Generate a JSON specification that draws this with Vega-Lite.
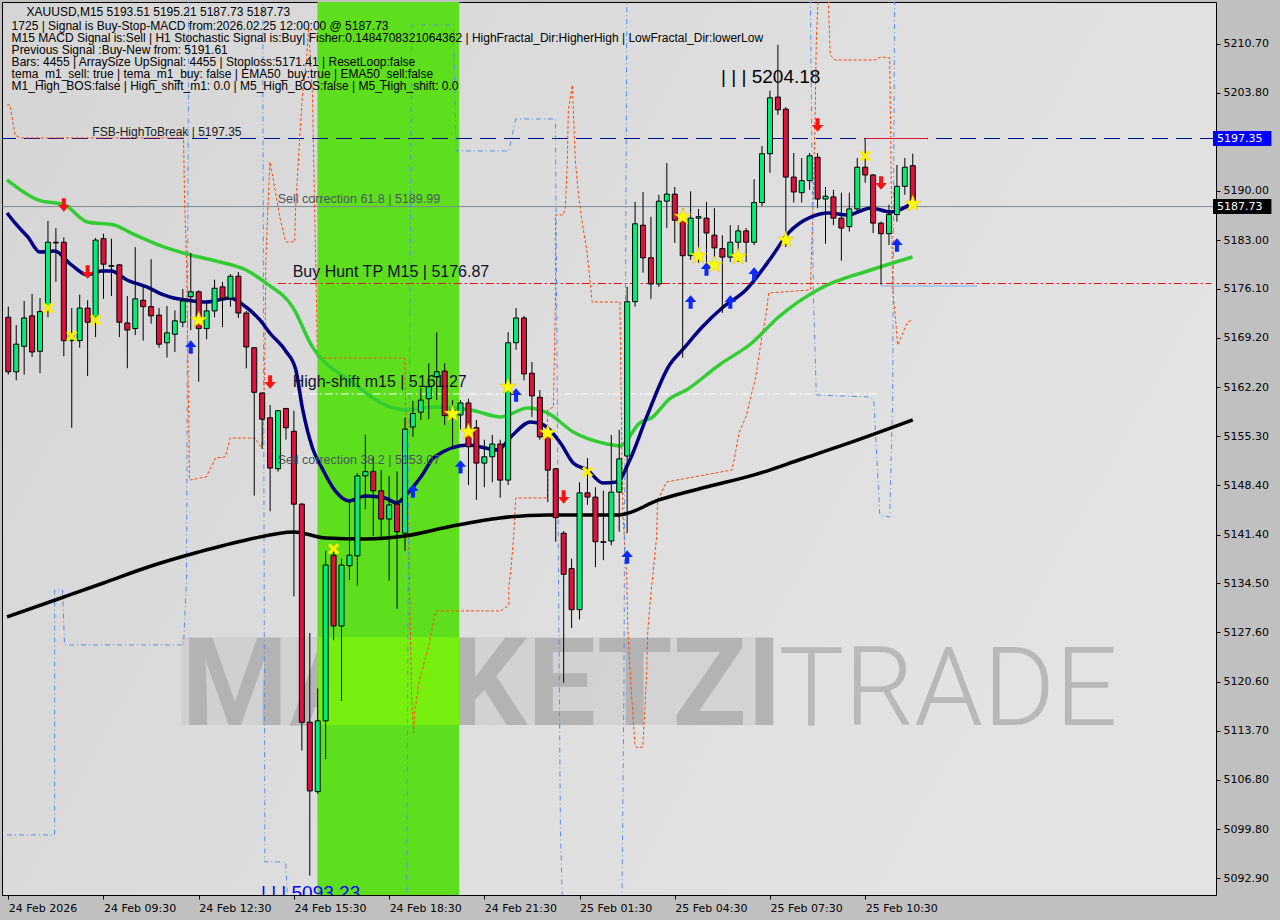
{
  "$schema": "https://vega.github.io/schema/vega-lite/v6.json",
  "width": 1214,
  "height": 893,
  "autosize": {"type": "none"},
  "padding": {"left": 2, "top": 2, "right": 64, "bottom": 25},
  "background": "#c0c0c0",
  "config": {
    "view": {"stroke": "#000000", "strokeWidth": 1, "fill": {"gradient": "linear", "x1": 0, "y1": 0, "x2": 1, "y2": 0.4, "stops": [{"offset": 0, "color": "#d5d5d5"}, {"offset": 0.6, "color": "#dedede"}, {"offset": 1, "color": "#e3e3e3"}]}}
  },
  "resolve": {"axis": {"x": "independent", "y": "independent"}},
  "datasets": {
    "candles": [
      {"x":0,"o":5172.1,"h":5173.6,"l":5164.0,"c":5164.4},
      {"x":1,"o":5164.4,"h":5171.0,"l":5163.2,"c":5168.3},
      {"x":2,"o":5168.0,"h":5174.4,"l":5164.0,"c":5172.0},
      {"x":3,"o":5172.3,"h":5175.4,"l":5166.5,"c":5167.2},
      {"x":4,"o":5167.3,"h":5174.8,"l":5164.2,"c":5172.9},
      {"x":5,"o":5173.6,"h":5185.7,"l":5172.1,"c":5182.7},
      {"x":6,"o":5182.7,"h":5184.7,"l":5177.1,"c":5182.6},
      {"x":7,"o":5182.7,"h":5183.4,"l":5166.6,"c":5168.8},
      {"x":8,"o":5168.8,"h":5173.4,"l":5156.5,"c":5169.6},
      {"x":9,"o":5168.8,"h":5175.3,"l":5167.8,"c":5173.4},
      {"x":10,"o":5173.4,"h":5174.5,"l":5163.8,"c":5171.4},
      {"x":11,"o":5172.1,"h":5183.3,"l":5169.3,"c":5183.0},
      {"x":12,"o":5183.2,"h":5183.9,"l":5174.7,"c":5179.6},
      {"x":13,"o":5179.4,"h":5183.2,"l":5175.1,"c":5179.3},
      {"x":14,"o":5179.5,"h":5179.6,"l":5169.3,"c":5171.4},
      {"x":15,"o":5171.3,"h":5175.1,"l":5164.9,"c":5170.3},
      {"x":16,"o":5170.5,"h":5182.0,"l":5169.6,"c":5174.7},
      {"x":17,"o":5174.5,"h":5176.4,"l":5168.8,"c":5173.6},
      {"x":18,"o":5173.6,"h":5180.3,"l":5171.2,"c":5172.3},
      {"x":19,"o":5172.4,"h":5173.4,"l":5167.8,"c":5168.3},
      {"x":20,"o":5168.5,"h":5173.7,"l":5166.4,"c":5169.9},
      {"x":21,"o":5169.7,"h":5173.1,"l":5167.2,"c":5171.6},
      {"x":22,"o":5171.4,"h":5176.1,"l":5170.7,"c":5174.4},
      {"x":23,"o":5175.0,"h":5181.2,"l":5170.3,"c":5175.7},
      {"x":24,"o":5175.7,"h":5175.9,"l":5163.0,"c":5170.5},
      {"x":25,"o":5170.5,"h":5174.1,"l":5169.0,"c":5173.0},
      {"x":26,"o":5173.0,"h":5177.4,"l":5172.1,"c":5176.2},
      {"x":27,"o":5176.4,"h":5177.1,"l":5170.7,"c":5174.8},
      {"x":28,"o":5174.8,"h":5178.2,"l":5173.6,"c":5177.9},
      {"x":29,"o":5177.9,"h":5178.5,"l":5172.0,"c":5172.7},
      {"x":30,"o":5172.7,"h":5173.0,"l":5164.9,"c":5167.9},
      {"x":31,"o":5167.8,"h":5167.9,"l":5146.9,"c":5161.5},
      {"x":32,"o":5161.4,"h":5161.5,"l":5153.5,"c":5157.7},
      {"x":33,"o":5157.9,"h":5159.7,"l":5144.7,"c":5150.8},
      {"x":34,"o":5150.7,"h":5159.0,"l":5150.3,"c":5158.9},
      {"x":35,"o":5159.2,"h":5159.3,"l":5154.8,"c":5156.5},
      {"x":36,"o":5156.0,"h":5158.9,"l":5132.7,"c":5145.7},
      {"x":37,"o":5145.7,"h":5145.9,"l":5110.9,"c":5114.9},
      {"x":38,"o":5114.9,"h":5127.5,"l":5093.23,"c":5105.2},
      {"x":39,"o":5105.1,"h":5119.7,"l":5104.8,"c":5115.1},
      {"x":40,"o":5115.1,"h":5139.1,"l":5109.7,"c":5137.1},
      {"x":41,"o":5138.5,"h":5139.1,"l":5126.5,"c":5128.5},
      {"x":42,"o":5128.5,"h":5138.0,"l":5117.9,"c":5137.1},
      {"x":43,"o":5137.0,"h":5146.2,"l":5135.0,"c":5138.5},
      {"x":44,"o":5138.4,"h":5150.1,"l":5134.2,"c":5149.7},
      {"x":45,"o":5149.7,"h":5155.5,"l":5145.0,"c":5150.3},
      {"x":46,"o":5150.3,"h":5152.4,"l":5141.2,"c":5147.6},
      {"x":47,"o":5147.6,"h":5150.5,"l":5140.7,"c":5143.6},
      {"x":48,"o":5143.6,"h":5149.7,"l":5134.9,"c":5145.6},
      {"x":49,"o":5145.7,"h":5150.3,"l":5130.9,"c":5141.8},
      {"x":50,"o":5141.6,"h":5157.9,"l":5139.1,"c":5156.3},
      {"x":51,"o":5156.6,"h":5160.3,"l":5155.2,"c":5158.5},
      {"x":52,"o":5158.7,"h":5162.1,"l":5157.6,"c":5160.4},
      {"x":53,"o":5160.6,"h":5165.6,"l":5157.7,"c":5162.3},
      {"x":54,"o":5163.7,"h":5170.0,"l":5160.4,"c":5164.4},
      {"x":55,"o":5164.5,"h":5165.6,"l":5156.9,"c":5158.2},
      {"x":56,"o":5158.3,"h":5160.4,"l":5153.8,"c":5159.0},
      {"x":57,"o":5158.3,"h":5160.4,"l":5156.2,"c":5160.0},
      {"x":58,"o":5160.0,"h":5160.6,"l":5148.4,"c":5153.8},
      {"x":59,"o":5156.5,"h":5157.6,"l":5146.3,"c":5151.5},
      {"x":60,"o":5151.5,"h":5154.8,"l":5148.1,"c":5152.4},
      {"x":61,"o":5152.4,"h":5155.5,"l":5148.8,"c":5154.2},
      {"x":62,"o":5154.2,"h":5154.8,"l":5146.6,"c":5149.1},
      {"x":63,"o":5149.1,"h":5170.0,"l":5148.4,"c":5168.5},
      {"x":64,"o":5168.5,"h":5173.4,"l":5167.5,"c":5172.0},
      {"x":65,"o":5172.0,"h":5172.3,"l":5163.2,"c":5164.1},
      {"x":66,"o":5164.2,"h":5165.8,"l":5158.0,"c":5161.0},
      {"x":67,"o":5160.8,"h":5161.8,"l":5154.8,"c":5155.2},
      {"x":68,"o":5155.3,"h":5156.6,"l":5146.0,"c":5150.5},
      {"x":69,"o":5150.7,"h":5150.8,"l":5140.4,"c":5143.8},
      {"x":70,"o":5141.6,"h":5141.9,"l":5120.5,"c":5135.8},
      {"x":71,"o":5136.6,"h":5138.0,"l":5128.2,"c":5130.8},
      {"x":72,"o":5130.8,"h":5148.8,"l":5129.4,"c":5147.3},
      {"x":73,"o":5147.3,"h":5152.2,"l":5145.6,"c":5146.7},
      {"x":74,"o":5146.7,"h":5148.1,"l":5136.8,"c":5140.4},
      {"x":75,"o":5140.4,"h":5147.6,"l":5137.8,"c":5140.3},
      {"x":76,"o":5140.5,"h":5155.5,"l":5139.9,"c":5147.4},
      {"x":77,"o":5147.4,"h":5156.2,"l":5141.8,"c":5152.1},
      {"x":78,"o":5152.5,"h":5176.4,"l":5141.6,"c":5174.3},
      {"x":79,"o":5174.3,"h":5188.4,"l":5173.6,"c":5185.3},
      {"x":80,"o":5185.1,"h":5189.8,"l":5178.4,"c":5180.5},
      {"x":81,"o":5180.5,"h":5186.3,"l":5174.7,"c":5176.8},
      {"x":82,"o":5176.8,"h":5189.4,"l":5176.4,"c":5188.5},
      {"x":83,"o":5188.5,"h":5193.9,"l":5184.7,"c":5189.5},
      {"x":84,"o":5189.5,"h":5190.5,"l":5182.6,"c":5185.8},
      {"x":85,"o":5185.8,"h":5187.5,"l":5166.4,"c":5180.8},
      {"x":86,"o":5180.8,"h":5189.9,"l":5180.2,"c":5186.1},
      {"x":87,"o":5186.1,"h":5187.4,"l":5179.8,"c":5186.3},
      {"x":88,"o":5186.1,"h":5188.4,"l":5178.5,"c":5184.0},
      {"x":89,"o":5183.7,"h":5187.5,"l":5179.5,"c":5181.9},
      {"x":90,"o":5181.8,"h":5183.7,"l":5172.7,"c":5180.6},
      {"x":91,"o":5180.6,"h":5185.1,"l":5179.9,"c":5182.7},
      {"x":92,"o":5182.7,"h":5185.1,"l":5179.9,"c":5184.3},
      {"x":93,"o":5184.3,"h":5184.7,"l":5179.9,"c":5182.7},
      {"x":94,"o":5182.7,"h":5191.6,"l":5182.3,"c":5188.3},
      {"x":95,"o":5188.3,"h":5196.3,"l":5187.8,"c":5195.2},
      {"x":96,"o":5195.2,"h":5204.1,"l":5192.5,"c":5203.1},
      {"x":97,"o":5203.2,"h":5210.6,"l":5200.7,"c":5201.4},
      {"x":98,"o":5201.5,"h":5201.8,"l":5182.0,"c":5191.9},
      {"x":99,"o":5191.9,"h":5195.3,"l":5188.3,"c":5189.8},
      {"x":100,"o":5189.7,"h":5194.6,"l":5188.3,"c":5191.4},
      {"x":101,"o":5191.4,"h":5195.3,"l":5190.1,"c":5194.9},
      {"x":102,"o":5194.7,"h":5195.3,"l":5187.5,"c":5188.8},
      {"x":103,"o":5188.8,"h":5190.5,"l":5182.5,"c":5189.2},
      {"x":104,"o":5189.1,"h":5190.1,"l":5185.1,"c":5186.1},
      {"x":105,"o":5186.1,"h":5189.7,"l":5180.1,"c":5184.7},
      {"x":106,"o":5184.9,"h":5189.7,"l":5184.2,"c":5187.4},
      {"x":107,"o":5187.4,"h":5194.6,"l":5187.0,"c":5193.3},
      {"x":108,"o":5193.3,"h":5197.3,"l":5191.1,"c":5192.2},
      {"x":109,"o":5192.2,"h":5192.3,"l":5184.0,"c":5185.4},
      {"x":110,"o":5185.4,"h":5185.6,"l":5176.7,"c":5183.9},
      {"x":111,"o":5183.9,"h":5188.0,"l":5182.3,"c":5186.6},
      {"x":112,"o":5186.6,"h":5193.6,"l":5185.6,"c":5190.6},
      {"x":113,"o":5190.6,"h":5194.6,"l":5189.4,"c":5193.3},
      {"x":114,"o":5193.51,"h":5195.21,"l":5187.73,"c":5187.73}
    ],
    "ema200": [
      {"x":-0.16,"y":5129.77},{"x":7,"y":5132.59},{"x":12,"y":5134.57},{"x":18,"y":5136.97},{"x":24,"y":5138.95},{"x":30,"y":5140.65},{"x":36,"y":5141.78},{"x":40,"y":5140.93},{"x":45,"y":5140.79},{"x":50,"y":5141.22},{"x":56,"y":5142.63},{"x":62,"y":5143.76},{"x":68,"y":5144.19},{"x":72,"y":5144.19},{"x":77,"y":5144.19},{"x":82,"y":5146.3},{"x":88,"y":5148.13},{"x":94,"y":5149.83},{"x":100,"y":5152.08},{"x":106,"y":5154.35},{"x":114,"y":5157.6}
    ],
    "ema50": [
      {"x":-0.16,"y":5191.49},{"x":3.71,"y":5188.67},{"x":7.09,"y":5187.96},{"x":9.96,"y":5185.56},{"x":13.34,"y":5185.14},{"x":15.46,"y":5184.01},{"x":19.59,"y":5182.03},{"x":22.46,"y":5181.04},{"x":26.71,"y":5179.91},{"x":29.96,"y":5178.78},{"x":32.46,"y":5176.95},{"x":35.84,"y":5173.55},{"x":38.34,"y":5167.91},{"x":39.59,"y":5166.07},{"x":42.96,"y":5163.24},{"x":47.46,"y":5159.71},{"x":49.96,"y":5159.01},{"x":53.71,"y":5159.43},{"x":58.34,"y":5159.01},{"x":62.09,"y":5158.02},{"x":65.46,"y":5159.29},{"x":67.96,"y":5158.59},{"x":71.21,"y":5155.91},{"x":75.46,"y":5154.21},{"x":77.09,"y":5153.93},{"x":79.59,"y":5157.17},{"x":81.21,"y":5158.02},{"x":83.34,"y":5160.56},{"x":85.46,"y":5161.83},{"x":89.59,"y":5165.36},{"x":93.71,"y":5168.47},{"x":97.09,"y":5172.14},{"x":102.46,"y":5176.24},{"x":108.71,"y":5178.78},{"x":113.96,"y":5180.62}
    ],
    "ema20": [
      {"x":-0.16,"y":5186.83},{"x":0.84,"y":5185.42},{"x":2.46,"y":5183.44},{"x":3.96,"y":5181.32},{"x":5.84,"y":5181.46},{"x":7.96,"y":5179.49},{"x":9.96,"y":5178.08},{"x":11.71,"y":5178.64},{"x":12.96,"y":5178.64},{"x":14.96,"y":5177.37},{"x":17.46,"y":5176.38},{"x":19.59,"y":5175.25},{"x":20.84,"y":5174.82},{"x":22.46,"y":5174.54},{"x":24.96,"y":5174.26},{"x":27.96,"y":5174.82},{"x":29.96,"y":5173.55},{"x":31.71,"y":5171.72},{"x":32.96,"y":5169.88},{"x":34.96,"y":5167.34},{"x":36.21,"y":5164.8},{"x":37.09,"y":5159.15},{"x":38.34,"y":5153.64},{"x":39.59,"y":5150.68},{"x":41.21,"y":5147.57},{"x":42.96,"y":5146.16},{"x":44.96,"y":5146.86},{"x":47.46,"y":5146.58},{"x":48.96,"y":5145.88},{"x":50.46,"y":5147.43},{"x":52.09,"y":5149.69},{"x":53.71,"y":5152.36},{"x":57.96,"y":5154.07},{"x":61.71,"y":5153.36},{"x":63.34,"y":5155.2},{"x":65.84,"y":5157.31},{"x":67.46,"y":5156.89},{"x":69.59,"y":5154.35},{"x":71.21,"y":5151.52},{"x":72.96,"y":5150.54},{"x":74.96,"y":5148.7},{"x":76.71,"y":5148.84},{"x":78.34,"y":5151.94},{"x":80.46,"y":5158.02},{"x":83.34,"y":5165.36},{"x":84.96,"y":5167.48},{"x":87.46,"y":5170.73},{"x":89.96,"y":5173.41},{"x":92.96,"y":5175.96},{"x":96.21,"y":5180.62},{"x":98.34,"y":5184.01},{"x":101.21,"y":5186.27},{"x":103.34,"y":5186.83},{"x":105.84,"y":5186.55},{"x":108.71,"y":5187.54},{"x":111.21,"y":5186.97},{"x":113.96,"y":5188.25}
    ],
    "orange": [
      {"x":-0.16,"y":5202.08},{"x":0.21,"y":5202.08},{"x":0.84,"y":5197.85},{"x":1.46,"y":5197.43},{"x":22.09,"y":5197.43},{"x":22.21,"y":5189.09},{"x":22.46,"y":5180.19},{"x":22.71,"y":5160.42},{"x":22.84,"y":5149.13},{"x":22.96,"y":5149.13},{"x":24.96,"y":5149.56},{"x":26.09,"y":5152.22},{"x":27.34,"y":5152.36},{"x":27.96,"y":5155.05},{"x":31.09,"y":5155.05},{"x":31.84,"y":5153.78},{"x":32.09,"y":5154.77},{"x":32.34,"y":5166.07},{"x":32.46,"y":5180.19},{"x":32.96,"y":5194.04},{"x":33.34,"y":5191.92},{"x":34.21,"y":5186.27},{"x":34.96,"y":5182.74},{"x":36.09,"y":5182.74},{"x":36.21,"y":5187.26},{"x":36.71,"y":5197.15},{"x":37.09,"y":5203.78},{"x":37.59,"y":5208.44},{"x":37.84,"y":5212.96},{"x":38.09,"y":5208.44},{"x":38.34,"y":5203.5},{"x":38.59,"y":5188.67},{"x":38.84,"y":5174.54},{"x":38.96,"y":5166.35},{"x":49.96,"y":5166.35},{"x":50.21,"y":5153.36},{"x":50.46,"y":5141.64},{"x":50.84,"y":5118.05},{"x":51.09,"y":5113.39},{"x":51.21,"y":5116.22},{"x":51.84,"y":5120.88},{"x":52.96,"y":5125.54},{"x":53.71,"y":5129.77},{"x":53.96,"y":5130.62},{"x":62.09,"y":5130.62},{"x":63.09,"y":5131.46},{"x":63.09,"y":5134.01},{"x":63.34,"y":5136.41},{"x":63.59,"y":5139.66},{"x":63.71,"y":5141.64},{"x":63.96,"y":5146.58},{"x":67.96,"y":5146.58},{"x":67.96,"y":5159.01},{"x":68.71,"y":5159.43},{"x":68.96,"y":5174.54},{"x":68.96,"y":5186.55},{"x":69.96,"y":5186.55},{"x":70.21,"y":5187.68},{"x":70.46,"y":5194.32},{"x":70.59,"y":5201.38},{"x":71.09,"y":5204.91},{"x":71.21,"y":5201.66},{"x":71.46,"y":5194.32},{"x":71.84,"y":5189.66},{"x":72.34,"y":5185.42},{"x":72.96,"y":5181.18},{"x":73.59,"y":5174.26},{"x":77.09,"y":5174.26},{"x":77.34,"y":5152.36},{"x":77.46,"y":5144.46},{"x":77.71,"y":5139.66},{"x":77.96,"y":5135.0},{"x":78.09,"y":5127.94},{"x":78.34,"y":5122.71},{"x":78.71,"y":5116.22},{"x":78.96,"y":5111.98},{"x":79.21,"y":5111.28},{"x":79.96,"y":5111.42},{"x":80.21,"y":5116.22},{"x":80.46,"y":5121.87},{"x":80.59,"y":5127.51},{"x":80.84,"y":5131.19},{"x":81.21,"y":5135.42},{"x":81.71,"y":5141.07},{"x":81.84,"y":5146.3},{"x":82.96,"y":5148.84},{"x":91.21,"y":5150.54},{"x":91.71,"y":5153.36},{"x":92.09,"y":5155.76},{"x":92.96,"y":5158.02},{"x":93.71,"y":5161.41},{"x":94.21,"y":5163.67},{"x":94.59,"y":5166.49},{"x":94.96,"y":5169.31},{"x":95.46,"y":5172.14},{"x":95.84,"y":5175.53},{"x":101.09,"y":5175.96},{"x":101.46,"y":5188.67},{"x":101.71,"y":5201.8},{"x":101.84,"y":5211.27},{"x":102.09,"y":5217.6},{"x":103.34,"y":5217.6},{"x":103.59,"y":5209.15},{"x":104.21,"y":5208.44},{"x":109.21,"y":5208.44},{"x":109.96,"y":5208.87},{"x":111.09,"y":5208.73},{"x":111.46,"y":5175.96},{"x":111.84,"y":5171.72},{"x":112.09,"y":5168.19},{"x":113.34,"y":5171.43},{"x":113.96,"y":5171.72}
    ],
    "blue": [
      {"x":-0.16,"y":5098.98},{"x":5.84,"y":5098.98},{"x":5.84,"y":5133.58},{"x":6.84,"y":5133.58},{"x":7.09,"y":5125.82},{"x":22.09,"y":5125.82},{"x":22.46,"y":5135.0},{"x":22.71,"y":5208.44},{"x":22.71,"y":5217.6},{"x":32.09,"y":5217.6},{"x":32.09,"y":5205.19},{"x":32.34,"y":5095.17},{"x":34.96,"y":5095.17},{"x":35.21,"y":5089.5},{"x":50.21,"y":5089.5},{"x":50.46,"y":5146.3},{"x":50.84,"y":5213.39},{"x":56.09,"y":5213.39},{"x":56.46,"y":5195.59},{"x":63.09,"y":5195.59},{"x":63.96,"y":5200.11},{"x":68.96,"y":5200.11},{"x":69.34,"y":5136.41},{"x":69.59,"y":5099.69},{"x":69.84,"y":5089.5},{"x":77.34,"y":5089.5},{"x":77.59,"y":5119.46},{"x":77.96,"y":5217.6},{"x":101.09,"y":5217.6},{"x":101.46,"y":5175.96},{"x":101.84,"y":5161.13},{"x":108.34,"y":5160.85},{"x":109.09,"y":5160.42},{"x":109.84,"y":5144.18},{"x":111.09,"y":5143.89},{"x":111.46,"y":5160.42},{"x":111.71,"y":5217.6}
    ],
    "redDown": [
      {"x":7,"y":5187.96},{"x":10,"y":5178.5},{"x":33,"y":5162.96},{"x":70,"y":5146.72},{"x":102,"y":5199.26},{"x":110,"y":5191.07}
    ],
    "blueUp": [
      {"x":23,"y":5167.91},{"x":51,"y":5147.57},{"x":57,"y":5150.97},{"x":64,"y":5161.13},{"x":78,"y":5138.25},{"x":86,"y":5174.26},{"x":88,"y":5178.92},{"x":91,"y":5174.26},{"x":94,"y":5178.22},{"x":112,"y":5182.31}
    ],
    "stars": [
      {"x":24,"y":5171.72},{"x":56,"y":5158.45},{"x":58,"y":5155.91},{"x":63,"y":5162.26},{"x":68,"y":5155.76},{"x":85,"y":5186.27},{"x":87,"y":5180.76},{"x":89,"y":5179.49},{"x":92,"y":5180.62},{"x":98,"y":5183.02},{"x":114,"y":5188.11}
    ],
    "crosses": [
      {"x":5,"y":5173.41},{"x":8,"y":5169.46},{"x":11,"y":5171.72},{"x":41,"y":5139.38},{"x":73,"y":5150.27},{"x":108,"y":5194.88}
    ],
    "info": [
      {"x":2.3,"y":5215.22,"t":"XAUUSD,M15  5193.51 5195.21 5187.73 5187.73"},
      {"x":0.42,"y":5213.31,"t":"1725 | Signal is Buy-Stop-MACD from:2026.02.25 12:00:00 @ 5187.73"},
      {"x":0.42,"y":5211.55,"t":"M15 MACD Signal is:Sell | H1 Stochastic Signal is:Buy| Fisher:0.1484708321064362 | HighFractal_Dir:HigherHigh | LowFractal_Dir:lowerLow"},
      {"x":0.42,"y":5209.85,"t":"Previous Signal :Buy-New from: 5191.61"},
      {"x":0.42,"y":5208.16,"t":"Bars: 4455 | ArraySize UpSignal: 4455 | Stoploss:5171.41 | ResetLoop:false"},
      {"x":0.42,"y":5206.46,"t":"tema_m1_sell: true | tema_m1_buy: false | EMA50_buy:true | EMA50_sell:false"},
      {"x":0.42,"y":5204.77,"t":"M1_High_BOS:false | High_shift_m1: 0.0 | M5_High_BOS:false | M5_High_shift: 0.0"}
    ]
  },
  "layer": [
    {
      "data": {"name": "candles"},
      "mark": {"type": "rule", "opacity": 0},
      "encoding": {
        "x": {"field": "x", "type": "quantitative", "scale": {"domain": [-0.1625, 151.5875], "nice": false, "zero": false},
          "axis": {"title": null, "orient": "bottom", "values": [0, 12, 24, 36, 48, 60, 72, 84, 96, 108],
            "labelExpr": "datum.value == 0 ? '24 Feb 2026' : datum.value == 12 ? '24 Feb 09:30' : datum.value == 24 ? '24 Feb 12:30' : datum.value == 36 ? '24 Feb 15:30' : datum.value == 48 ? '24 Feb 18:30' : datum.value == 60 ? '24 Feb 21:30' : datum.value == 72 ? '25 Feb 01:30' : datum.value == 84 ? '25 Feb 04:30' : datum.value == 96 ? '25 Feb 07:30' : '25 Feb 10:30'",
            "labelAlign": "left", "labelBaseline": "top", "labelPadding": 3, "tickSize": 4, "tickColor": "#000000", "labelColor": "#000000",
            "labelFont": "DejaVu Sans", "labelFontSize": 11, "domain": false, "grid": false, "labelFlush": false, "labelOverlap": false}},
        "y": {"field": "l", "type": "quantitative", "scale": {"domain": [5090.5, 5216.63], "nice": false, "zero": false},
          "axis": {"title": null, "orient": "right", "values": [5092.9, 5099.8, 5106.8, 5113.7, 5120.6, 5127.6, 5134.5, 5141.4, 5148.4, 5155.3, 5162.2, 5169.2, 5176.1, 5183.0, 5190.0, 5203.8, 5210.7],
            "format": ".2f", "tickSize": 4, "tickColor": "#000000", "labelColor": "#000000", "labelFont": "DejaVu Sans", "labelFontSize": 11,
            "labelPadding": 3, "domain": false, "grid": false, "labelOverlap": false, "labelBaseline": "middle", "labelAlign": "left"}},
        "y2": {"field": "h"}
      }
    },
    {
      "data": {"values": [{"x1": 21.84, "x2": 95.84}]},
      "mark": {"type": "rect", "color": "#c4c4c4", "opacity": 0.45},
      "encoding": {
        "x": {"field": "x1", "type": "quantitative", "scale": {"domain": [-0.1625, 151.5875], "nice": false, "zero": false}, "axis": null},
        "x2": {"field": "x2"},
        "y": {"datum": 5114.52, "type": "quantitative", "scale": {"domain": [5090.5, 5216.63], "nice": false, "zero": false}, "axis": null},
        "y2": {"datum": 5126.94}
      }
    },
    {
      "data": {"values": [{"x": 21.84, "y": 5114.52, "t": "MARKETZI"}]},
      "mark": {"type": "text", "align": "left", "baseline": "alphabetic", "font": "Roboto", "fontWeight": "bold", "fontSize": 122, "color": "#b3b3b3"},
      "encoding": {
        "x": {"field": "x", "type": "quantitative", "scale": {"domain": [-0.1625, 151.5875], "nice": false, "zero": false}, "axis": null},
        "y": {"field": "y", "type": "quantitative", "scale": {"domain": [5090.5, 5216.63], "nice": false, "zero": false}, "axis": null},
        "text": {"field": "t"}
      }
    },
    {
      "data": {"values": [{"x": 97.09, "y": 5114.52, "t": "TRADE"}]},
      "mark": {"type": "text", "align": "left", "baseline": "alphabetic", "font": "Roboto", "fontWeight": 300, "fontSize": 110, "color": "#b8b8b8"},
      "encoding": {
        "x": {"field": "x", "type": "quantitative", "scale": {"domain": [-0.1625, 151.5875], "nice": false, "zero": false}, "axis": null},
        "y": {"field": "y", "type": "quantitative", "scale": {"domain": [5090.5, 5216.63], "nice": false, "zero": false}, "axis": null},
        "text": {"field": "t"}
      }
    },
    {
      "data": {"values": [{"x1": 38.96, "x2": 56.84}]},
      "mark": {"type": "rect", "color": "#5ddf1d"},
      "encoding": {
        "x": {"field": "x1", "type": "quantitative", "scale": {"domain": [-0.1625, 151.5875], "nice": false, "zero": false}, "axis": null},
        "x2": {"field": "x2"},
        "y": {"datum": 5090.5, "type": "quantitative", "scale": {"domain": [5090.5, 5216.63], "nice": false, "zero": false}, "axis": null},
        "y2": {"datum": 5216.63}
      }
    },
    {
      "data": {"values": [{"x1": 38.96, "x2": 56.84}]},
      "mark": {"type": "rect", "color": "#76ef0e"},
      "encoding": {
        "x": {"field": "x1", "type": "quantitative", "scale": {"domain": [-0.1625, 151.5875], "nice": false, "zero": false}, "axis": null},
        "x2": {"field": "x2"},
        "y": {"datum": 5114.52, "type": "quantitative", "scale": {"domain": [5090.5, 5216.63], "nice": false, "zero": false}, "axis": null},
        "y2": {"datum": 5126.94}
      }
    },
    {
      "data": {"values": [{"y": 5187.73}]},
      "mark": {"type": "rule", "color": "#7d8890", "strokeWidth": 1},
      "encoding": {
        "y": {"field": "y", "type": "quantitative", "scale": {"domain": [5090.5, 5216.63], "nice": false, "zero": false}, "axis": null}
      }
    },
    {
      "data": {"values": [{"y": 5197.35}]},
      "mark": {"type": "rule", "color": "#000096", "strokeWidth": 1, "strokeDash": [16, 8]},
      "encoding": {
        "y": {"field": "y", "type": "quantitative", "scale": {"domain": [5090.5, 5216.63], "nice": false, "zero": false}, "axis": null}
      }
    },
    {
      "data": {"values": [{"x1": 107.96, "x2": 115.84, "y": 5197.35}]},
      "mark": {"type": "rule", "color": "#dc143c", "strokeWidth": 1},
      "encoding": {
        "x": {"field": "x1", "type": "quantitative", "scale": {"domain": [-0.1625, 151.5875], "nice": false, "zero": false}, "axis": null},
        "x2": {"field": "x2"},
        "y": {"field": "y", "type": "quantitative", "scale": {"domain": [5090.5, 5216.63], "nice": false, "zero": false}, "axis": null}
      }
    },
    {
      "data": {"values": [{"x1": 33.96, "x2": 151.58, "y": 5176.87}]},
      "mark": {"type": "rule", "color": "#ff0000", "strokeWidth": 1, "strokeDash": [8, 3, 2, 3]},
      "encoding": {
        "x": {"field": "x1", "type": "quantitative", "scale": {"domain": [-0.1625, 151.5875], "nice": false, "zero": false}, "axis": null},
        "x2": {"field": "x2"},
        "y": {"field": "y", "type": "quantitative", "scale": {"domain": [5090.5, 5216.63], "nice": false, "zero": false}, "axis": null}
      }
    },
    {
      "data": {"values": [{"x1": 109.96, "x2": 122.09, "y": 5176.52}]},
      "mark": {"type": "rule", "color": "#78aaff", "strokeWidth": 1},
      "encoding": {
        "x": {"field": "x1", "type": "quantitative", "scale": {"domain": [-0.1625, 151.5875], "nice": false, "zero": false}, "axis": null},
        "x2": {"field": "x2"},
        "y": {"field": "y", "type": "quantitative", "scale": {"domain": [5090.5, 5216.63], "nice": false, "zero": false}, "axis": null}
      }
    },
    {
      "data": {"values": [{"x1": 35.84, "x2": 109.59, "y": 5161.27}]},
      "mark": {"type": "rule", "color": "#ffffff", "strokeWidth": 1, "strokeDash": [8, 3, 2, 3]},
      "encoding": {
        "x": {"field": "x1", "type": "quantitative", "scale": {"domain": [-0.1625, 151.5875], "nice": false, "zero": false}, "axis": null},
        "x2": {"field": "x2"},
        "y": {"field": "y", "type": "quantitative", "scale": {"domain": [5090.5, 5216.63], "nice": false, "zero": false}, "axis": null}
      }
    },
    {
      "data": {"name": "orange"},
      "mark": {"type": "line", "color": "#ff4a0a", "strokeWidth": 1, "strokeDash": [3, 2], "clip": true},
      "encoding": {
        "x": {"field": "x", "type": "quantitative", "scale": {"domain": [-0.1625, 151.5875], "nice": false, "zero": false}, "axis": null},
        "y": {"field": "y", "type": "quantitative", "scale": {"domain": [5090.5, 5216.63], "nice": false, "zero": false}, "axis": null},
        "order": {"value": null}
      }
    },
    {
      "data": {"name": "blue"},
      "mark": {"type": "line", "color": "#5590ee", "strokeWidth": 1, "strokeDash": [5, 3, 1, 3], "clip": true},
      "encoding": {
        "x": {"field": "x", "type": "quantitative", "scale": {"domain": [-0.1625, 151.5875], "nice": false, "zero": false}, "axis": null},
        "y": {"field": "y", "type": "quantitative", "scale": {"domain": [5090.5, 5216.63], "nice": false, "zero": false}, "axis": null},
        "order": {"value": null}
      }
    },
    {
      "data": {"name": "ema200"},
      "mark": {"type": "line", "color": "#000000", "strokeWidth": 3.5, "interpolate": "monotone"},
      "encoding": {
        "x": {"field": "x", "type": "quantitative", "scale": {"domain": [-0.1625, 151.5875], "nice": false, "zero": false}, "axis": null},
        "y": {"field": "y", "type": "quantitative", "scale": {"domain": [5090.5, 5216.63], "nice": false, "zero": false}, "axis": null}
      }
    },
    {
      "data": {"name": "ema50"},
      "mark": {"type": "line", "color": "#32cd32", "strokeWidth": 3.5, "interpolate": "monotone"},
      "encoding": {
        "x": {"field": "x", "type": "quantitative", "scale": {"domain": [-0.1625, 151.5875], "nice": false, "zero": false}, "axis": null},
        "y": {"field": "y", "type": "quantitative", "scale": {"domain": [5090.5, 5216.63], "nice": false, "zero": false}, "axis": null}
      }
    },
    {
      "data": {"name": "ema20"},
      "mark": {"type": "line", "color": "#000080", "strokeWidth": 3.5, "interpolate": "monotone"},
      "encoding": {
        "x": {"field": "x", "type": "quantitative", "scale": {"domain": [-0.1625, 151.5875], "nice": false, "zero": false}, "axis": null},
        "y": {"field": "y", "type": "quantitative", "scale": {"domain": [5090.5, 5216.63], "nice": false, "zero": false}, "axis": null}
      }
    },
    {
      "data": {"name": "candles"},
      "mark": {"type": "rule", "color": "#000000", "strokeWidth": 1},
      "encoding": {
        "x": {"field": "x", "type": "quantitative", "scale": {"domain": [-0.1625, 151.5875], "nice": false, "zero": false}, "axis": null},
        "y": {"field": "l", "type": "quantitative", "scale": {"domain": [5090.5, 5216.63], "nice": false, "zero": false}, "axis": null},
        "y2": {"field": "h"}
      }
    },
    {
      "data": {"name": "candles"},
      "mark": {"type": "bar", "width": 5, "stroke": "#000000", "strokeWidth": 1},
      "encoding": {
        "x": {"field": "x", "type": "quantitative", "scale": {"domain": [-0.1625, 151.5875], "nice": false, "zero": false}, "axis": null},
        "y": {"field": "o", "type": "quantitative", "scale": {"domain": [5090.5, 5216.63], "nice": false, "zero": false}, "axis": null},
        "y2": {"field": "c"},
        "color": {"condition": {"test": "datum.c >= datum.o", "value": "#00ee78"}, "value": "#dc143c"}
      }
    },
    {
      "data": {"name": "redDown"},
      "mark": {"type": "point", "shape": "M-0.3,-1L0.3,-1L0.3,0L0.85,0L0,1L-0.85,0L-0.3,0Z", "filled": true, "color": "#ff1010", "size": 180, "opacity": 1},
      "encoding": {
        "x": {"field": "x", "type": "quantitative", "scale": {"domain": [-0.1625, 151.5875], "nice": false, "zero": false}, "axis": null},
        "y": {"field": "y", "type": "quantitative", "scale": {"domain": [5090.5, 5216.63], "nice": false, "zero": false}, "axis": null}
      }
    },
    {
      "data": {"name": "blueUp"},
      "mark": {"type": "point", "shape": "M-0.3,1L0.3,1L0.3,0L0.85,0L0,-1L-0.85,0L-0.3,0Z", "filled": true, "color": "#0a28ff", "size": 180, "opacity": 1},
      "encoding": {
        "x": {"field": "x", "type": "quantitative", "scale": {"domain": [-0.1625, 151.5875], "nice": false, "zero": false}, "axis": null},
        "y": {"field": "y", "type": "quantitative", "scale": {"domain": [5090.5, 5216.63], "nice": false, "zero": false}, "axis": null}
      }
    },
    {
      "data": {"name": "stars"},
      "mark": {"type": "point", "shape": "M0,-1L0.235,-0.324L0.951,-0.309L0.38,0.124L0.588,0.809L0,0.4L-0.588,0.809L-0.38,0.124L-0.951,-0.309L-0.235,-0.324Z", "filled": true, "color": "#ffff00", "stroke": "#e6c800", "strokeWidth": 0.6, "size": 300, "opacity": 1},
      "encoding": {
        "x": {"field": "x", "type": "quantitative", "scale": {"domain": [-0.1625, 151.5875], "nice": false, "zero": false}, "axis": null},
        "y": {"field": "y", "type": "quantitative", "scale": {"domain": [5090.5, 5216.63], "nice": false, "zero": false}, "axis": null}
      }
    },
    {
      "data": {"name": "crosses"},
      "mark": {"type": "point", "shape": "M-1,-0.6L-0.6,-1L0,-0.4L0.6,-1L1,-0.6L0.4,0L1,0.6L0.6,1L0,0.4L-0.6,1L-1,0.6L-0.4,0Z", "filled": true, "color": "#ffee00", "size": 130, "opacity": 1},
      "encoding": {
        "x": {"field": "x", "type": "quantitative", "scale": {"domain": [-0.1625, 151.5875], "nice": false, "zero": false}, "axis": null},
        "y": {"field": "y", "type": "quantitative", "scale": {"domain": [5090.5, 5216.63], "nice": false, "zero": false}, "axis": null}
      }
    },
    {
      "data": {"name": "info"},
      "mark": {"type": "text", "align": "left", "baseline": "middle", "font": "Liberation Sans", "fontSize": 12, "color": "#000000"},
      "encoding": {
        "x": {"field": "x", "type": "quantitative", "scale": {"domain": [-0.1625, 151.5875], "nice": false, "zero": false}, "axis": null},
        "y": {"field": "y", "type": "quantitative", "scale": {"domain": [5090.5, 5216.63], "nice": false, "zero": false}, "axis": null},
        "text": {"field": "t"}
      }
    },
    {
      "data": {"values": [{"x": 10.59, "y": 5198.27, "t": "FSB-HighToBreak | 5197.35"}]},
      "mark": {"type": "text", "align": "left", "baseline": "middle", "font": "Liberation Sans", "fontSize": 12, "color": "#1a1a1a"},
      "encoding": {
        "x": {"field": "x", "type": "quantitative", "scale": {"domain": [-0.1625, 151.5875], "nice": false, "zero": false}, "axis": null},
        "y": {"field": "y", "type": "quantitative", "scale": {"domain": [5090.5, 5216.63], "nice": false, "zero": false}, "axis": null},
        "text": {"field": "t"}
      }
    },
    {
      "data": {"values": [{"x": 33.96, "y": 5188.81, "t": "Sell correction 61.8 | 5189.99"}, {"x": 33.96, "y": 5151.95, "t": "Sell correction 38.2 | 5153.07"}]},
      "mark": {"type": "text", "align": "left", "baseline": "middle", "font": "Liberation Sans", "fontSize": 12.5, "color": "#4a5560"},
      "encoding": {
        "x": {"field": "x", "type": "quantitative", "scale": {"domain": [-0.1625, 151.5875], "nice": false, "zero": false}, "axis": null},
        "y": {"field": "y", "type": "quantitative", "scale": {"domain": [5090.5, 5216.63], "nice": false, "zero": false}, "axis": null},
        "text": {"field": "t"}
      }
    },
    {
      "data": {"values": [{"x": 35.84, "y": 5178.5, "t": "Buy Hunt TP M15 | 5176.87"}, {"x": 35.84, "y": 5162.96, "t": "High-shift m15 | 5161.27"}]},
      "mark": {"type": "text", "align": "left", "baseline": "middle", "font": "Liberation Sans", "fontSize": 16, "color": "#10102a"},
      "encoding": {
        "x": {"field": "x", "type": "quantitative", "scale": {"domain": [-0.1625, 151.5875], "nice": false, "zero": false}, "axis": null},
        "y": {"field": "y", "type": "quantitative", "scale": {"domain": [5090.5, 5216.63], "nice": false, "zero": false}, "axis": null},
        "text": {"field": "t"}
      }
    },
    {
      "data": {"values": [{"x": 89.84, "y": 5206.04, "t": "| | | 5204.18"}]},
      "mark": {"type": "text", "align": "left", "baseline": "middle", "font": "Liberation Sans", "fontSize": 19, "color": "#000000"},
      "encoding": {
        "x": {"field": "x", "type": "quantitative", "scale": {"domain": [-0.1625, 151.5875], "nice": false, "zero": false}, "axis": null},
        "y": {"field": "y", "type": "quantitative", "scale": {"domain": [5090.5, 5216.63], "nice": false, "zero": false}, "axis": null},
        "text": {"field": "t"}
      }
    },
    {
      "data": {"values": [{"x": 31.84, "y": 5092.06, "t": "| | | 5093.23"}]},
      "mark": {"type": "text", "align": "left", "baseline": "top", "font": "Liberation Sans", "fontSize": 19, "color": "#0000ff", "clip": true},
      "encoding": {
        "x": {"field": "x", "type": "quantitative", "scale": {"domain": [-0.1625, 151.5875], "nice": false, "zero": false}, "axis": null},
        "y": {"field": "y", "type": "quantitative", "scale": {"domain": [5090.5, 5216.63], "nice": false, "zero": false}, "axis": null},
        "text": {"field": "t"}
      }
    },
    {
      "data": {"values": [{"x1": 151.84, "x2": 159.2, "y1": 5196.29, "y2": 5198.41}]},
      "mark": {"type": "rect", "color": "#0000ff"},
      "encoding": {
        "x": {"field": "x1", "type": "quantitative", "scale": {"domain": [-0.1625, 151.5875], "nice": false, "zero": false}, "axis": null},
        "x2": {"field": "x2"},
        "y": {"field": "y1", "type": "quantitative", "scale": {"domain": [5090.5, 5216.63], "nice": false, "zero": false}, "axis": null},
        "y2": {"field": "y2"}
      }
    },
    {
      "data": {"values": [{"x1": 151.84, "x2": 159.2, "y1": 5186.67, "y2": 5188.79}]},
      "mark": {"type": "rect", "color": "#000000"},
      "encoding": {
        "x": {"field": "x1", "type": "quantitative", "scale": {"domain": [-0.1625, 151.5875], "nice": false, "zero": false}, "axis": null},
        "x2": {"field": "x2"},
        "y": {"field": "y1", "type": "quantitative", "scale": {"domain": [5090.5, 5216.63], "nice": false, "zero": false}, "axis": null},
        "y2": {"field": "y2"}
      }
    },
    {
      "data": {"values": [{"x": 152.35, "y": 5197.35, "t": "5197.35"}, {"x": 152.35, "y": 5187.73, "t": "5187.73"}]},
      "mark": {"type": "text", "align": "left", "baseline": "middle", "font": "DejaVu Sans", "fontSize": 11, "color": "#ffffff"},
      "encoding": {
        "x": {"field": "x", "type": "quantitative", "scale": {"domain": [-0.1625, 151.5875], "nice": false, "zero": false}, "axis": null},
        "y": {"field": "y", "type": "quantitative", "scale": {"domain": [5090.5, 5216.63], "nice": false, "zero": false}, "axis": null},
        "text": {"field": "t"}
      }
    }
  ]
}
